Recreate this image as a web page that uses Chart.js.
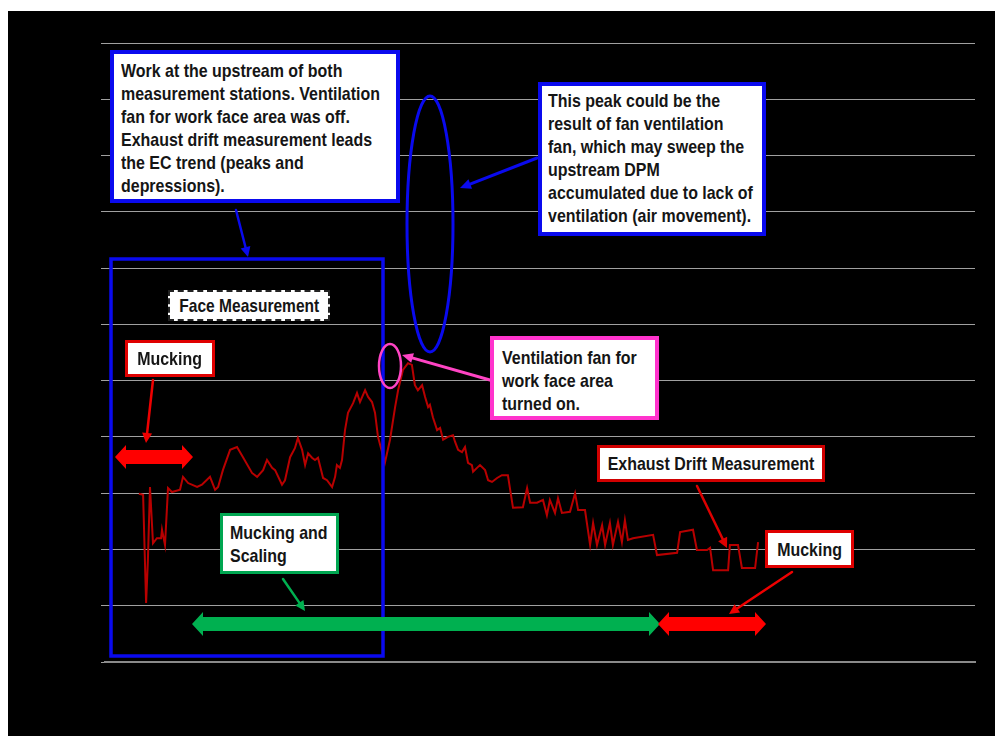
<!DOCTYPE html>
<html>
<head>
<meta charset="utf-8">
<script src="https://cdn.jsdelivr.net/npm/chart.js@4.4.1/dist/chart.umd.min.js"></script>
<style>
  html, body { margin:0; padding:0; background:#fff; width:995px; height:736px; overflow:hidden; }
  #bg { position:absolute; left:8px; top:11px; width:987px; height:725px; background:#000; }
  #wrap { position:absolute; left:0; top:0; width:995px; height:736px; }
  .box { position:absolute; box-sizing:border-box; background:#fff; color:#151515;
         font-family:"Liberation Sans",Arial,sans-serif;
         font-weight:bold; font-size:19px; line-height:23px; white-space:nowrap; overflow:visible; }
  .box .t { display:inline-block; transform:scaleX(0.84); transform-origin:left top; }
  .c { display:flex; justify-content:center; align-items:center; }
  .c .t { transform-origin:center center; flex:none; }
</style>
</head>
<body>
<div id="bg"></div>
<div id="wrap"><canvas id="c" width="995" height="736"></canvas></div>

<div class="box" style="left:110px;top:50px;width:290px;height:153px;border:4px solid #0a0aee;padding:5px 0 0 7px;"><span class="t">Work at the upstream of both<br>measurement stations. Ventilation<br>fan for work face area was off.<br>Exhaust drift measurement leads<br>the EC trend (peaks and<br>depressions).</span></div>
<div class="box" style="left:538px;top:82px;width:228px;height:154px;border:4px solid #0a0aee;padding:3px 0 0 6px;"><span class="t">This peak could be the<br>result of fan ventilation<br>fan, which may sweep the<br>upstream DPM<br>accumulated due to lack of<br>ventilation (air movement).</span></div>
<div class="box c" style="left:168px;top:290px;width:162px;height:31px;border:2px dashed #222;font-size:18.5px;"><span class="t">Face Measurement</span></div>
<div class="box c" style="left:125px;top:340px;width:90px;height:37px;border:3px solid #e00000;"><span class="t">Mucking</span></div>
<div class="box" style="left:490px;top:336px;width:169px;height:84px;border:4px solid #ff33cc;padding:6px 0 0 8px;"><span class="t">Ventilation fan for<br>work face area<br>turned on.</span></div>
<div class="box c" style="left:597px;top:445px;width:228px;height:37px;border:3px solid #d00000;"><span class="t">Exhaust Drift Measurement</span></div>
<div class="box c" style="left:765px;top:530px;width:89px;height:38px;border:3px solid #e00000;"><span class="t">Mucking</span></div>
<div class="box" style="left:220px;top:513px;width:119px;height:61px;border:3px solid #00a651;padding:5px 0 0 7px;"><span class="t">Mucking and<br>Scaling</span></div>

<script>
// Elapsed time (arbitrary units) and EC concentration
const times = [11.3,12.7,13.7,14.3,15.0,16.0,17.3,18.7,19.0,20.0,21.0,22.3,25.0,26.0,27.7,30.7,32.3,35.0,36.7,37.7,39.3,41.7,44.0,46.0,49.0,50.7,52.7,54.0,55.7,56.7,59.0,60.0,61.7,63.3,64.3,65.7,66.7,67.7,69.0,70.0,71.0,72.7,74.0,75.7,76.7,77.3,78.3,79.0,80.0,81.0,82.7,84.0,85.0,86.7,87.7,89.0,90.0,91.0,91.7,93.3,95.0,96.7,97.7,99.3,101.0,102.3,103.3,104.3,105.7,106.7,107.7,108.3,109.3,110.7,111.7,112.7,114.3,116.0,116.7,117.7,119.0,120.0,121.0,122.3,122.7,124.0,125.0,126.7,127.7,129.0,130.7,132.3,134.3,136.0,139.3,140.7,141.7,144.0,146.0,147.3,148.3,150.0,151.0,152.3,155.0,156.7,157.7,160.0,161.7,162.7,164.0,165.7,166.7,168.3,169.3,171.0,172.3,173.3,174.3,176.0,182.7,184.0,190.7,191.7,196.0,197.3,200.7,201.7,202.7,207.7,208.3,211.0,212.3,216.7,217.7];
const ec = [29.9,29.7,10.5,18.1,31.1,21.1,22.0,22.0,23.5,20.8,30.9,30.2,30.6,32.9,31.8,31.1,31.5,32.9,30.6,31.1,34.1,37.7,38.2,36.4,33.6,32.9,34.1,35.9,34.5,34.1,31.5,32.3,36.4,38.0,39.8,37.7,35.0,37.1,36.3,35.9,36.3,32.7,32.3,31.1,32.9,35.0,34.5,35.9,41.2,44.3,46.0,47.8,46.2,48.3,47.1,46.2,44.3,40.0,38.6,35.4,39.5,45.3,48.3,51.9,53.1,52.8,49.2,48.3,49.2,47.1,45.3,45.7,43.5,41.2,41.6,39.5,40.0,40.3,39.1,37.7,37.3,38.2,35.4,35.0,33.8,34.5,35.0,34.1,32.3,32.0,32.7,33.2,33.2,27.4,27.5,30.9,28.3,28.3,28.8,26.1,28.8,26.5,29.1,26.5,26.7,30.0,27.0,27.0,20.8,24.7,20.8,24.3,20.8,24.7,20.8,24.9,21.3,25.2,21.7,22.0,22.6,19.0,19.4,23.1,23.5,19.9,19.9,20.3,16.3,16.3,20.8,20.8,16.7,16.7,21.3];
const yTicks = [0,10,20,30,40,50,60,70,80,90,100,110];

const points = times.map((t,i)=>({x:t, y:ec[i]}));

function arrow(ctx, x1,y1,x2,y2,color,w,hl,hw){
  const a = Math.atan2(y2-y1,x2-x1);
  ctx.save();
  ctx.strokeStyle=color; ctx.fillStyle=color; ctx.lineWidth=w; ctx.lineCap='round';
  ctx.beginPath(); ctx.moveTo(x1,y1);
  ctx.lineTo(x2-Math.cos(a)*hl*0.8, y2-Math.sin(a)*hl*0.8); ctx.stroke();
  ctx.beginPath(); ctx.moveTo(x2,y2);
  ctx.lineTo(x2-Math.cos(a)*hl+Math.sin(a)*hw, y2-Math.sin(a)*hl-Math.cos(a)*hw);
  ctx.lineTo(x2-Math.cos(a)*hl-Math.sin(a)*hw, y2-Math.sin(a)*hl+Math.cos(a)*hw);
  ctx.closePath(); ctx.fill();
  ctx.restore();
}
function dblArrow(ctx,x1,x2,cy,color){
  const hl=11, hh=12, sh=7;
  ctx.save(); ctx.fillStyle=color; ctx.beginPath();
  ctx.moveTo(x1,cy);
  ctx.lineTo(x1+hl,cy-hh); ctx.lineTo(x1+hl,cy-sh); ctx.lineTo(x2-hl,cy-sh);
  ctx.lineTo(x2-hl,cy-hh); ctx.lineTo(x2,cy); ctx.lineTo(x2-hl,cy+hh);
  ctx.lineTo(x2-hl,cy+sh); ctx.lineTo(x1+hl,cy+sh); ctx.lineTo(x1+hl,cy+hh);
  ctx.closePath(); ctx.fill(); ctx.restore();
}

const annot = {
  id:'annot',
  afterDatasetsDraw(chart){
    const ctx = chart.ctx;
    ctx.save();
    ctx.strokeStyle='#0a0aee'; ctx.lineWidth=3.5;
    ctx.strokeRect(111,259,272,397);
    ctx.lineWidth=3;
    ctx.beginPath(); ctx.ellipse(430,224,23,128,0,0,Math.PI*2); ctx.stroke();
    ctx.strokeStyle='#ff44c4'; ctx.lineWidth=2.5;
    ctx.beginPath(); ctx.ellipse(390,366,11,22,0,0,Math.PI*2); ctx.stroke();
    ctx.restore();
    arrow(ctx,236,210,248,257,'#0a0aee',2.5,10,5);
    arrow(ctx,537,158,460,188,'#0a0aee',3,11,5);
    arrow(ctx,497,382,402,355,'#ff44c4',3,11,5);
    arrow(ctx,153,380,146,443,'#ee0000',2.5,10,5);
    arrow(ctx,697,486,727,548,'#dd0000',2.5,10,5);
    arrow(ctx,792,572,729,614,'#ee0000',2.5,10,5);
    arrow(ctx,283,579,305,611,'#00b050',2.5,10,5);
    dblArrow(ctx,115,193,457,'#ff0000');
    dblArrow(ctx,192,660,624,'#00b050');
    dblArrow(ctx,658,766,624,'#ff0000');
  }
};

new Chart(document.getElementById('c'), {
  type:'line',
  data:{ datasets:[{ label:'EC', data:points, borderColor:'#b80000', borderWidth:2,
    pointRadius:0, tension:0, fill:false }]},
  options:{
    responsive:false, animation:false, devicePixelRatio:1,
    layout:{ padding:{ left:101, right:20, top:43, bottom:74 } },
    plugins:{ legend:{display:false}, tooltip:{enabled:false} },
    scales:{
      x:{ type:'linear', min:0, max:290,
          grid:{ display:false, drawTicks:false },
          border:{ display:true, color:'#8a8a8a', width:2 },
          ticks:{ display:false } },
      y:{ min:0, max:110,
          afterBuildTicks(s){ s.ticks = yTicks.map(v=>({value:v})); },
          grid:{ color:'#a0a0a0', lineWidth:1, drawTicks:true, tickLength:4 },
          border:{ display:false },
          ticks:{ display:false } }
    }
  },
  plugins:[annot]
});
</script>
</body>
</html>
